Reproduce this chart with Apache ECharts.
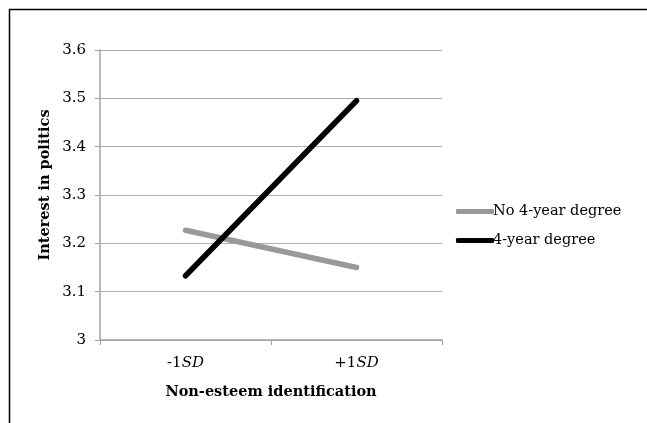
<!DOCTYPE html>
<html><head><meta charset="utf-8">
<script src="https://cdn.jsdelivr.net/npm/echarts@6/dist/echarts.min.js"></script>
<style>html,body{margin:0;padding:0;background:#fff;}#c{width:647px;height:423px;}</style>
</head><body><div id="c"></div>
<script>
const categories = ['-1SD', '+1SD'];
const noDegree = [3.227, 3.150];
const degree = [3.133, 3.495];
const yTicks = { min: 3, max: 3.6, step: 0.1 };
const seriesNames = ['No 4-year degree', '4-year degree'];
const xTitle = 'Non-esteem identification';
const yTitle = 'Interest in politics';

const FONT = 'DejaVu Serif';
const chart = echarts.init(document.getElementById('c'));
chart.setOption({
  animation: false,
  backgroundColor: '#fff',
  textStyle: { fontFamily: FONT },
  grid: { left: 100, right: 205, top: 50, bottom: 83 },
  legend: {
    orient: 'vertical', left: 451, top: 199, itemWidth: 38, itemHeight: 5, itemGap: 14,
    icon: 'roundRect',
    textStyle: { fontFamily: FONT, fontSize: 14.5, color: '#000', padding: [0, 0, 0, -6] },
    data: seriesNames
  },
  xAxis: {
    type: 'category', data: categories, boundaryGap: true,
    axisLine: { lineStyle: { color: '#a0a0a0', width: 1.5 } },
    axisTick: { show: true, length: 5, lineStyle: { color: '#a0a0a0' } },
    axisLabel: {
      margin: 16, fontSize: 15, color: '#000', fontFamily: FONT,
      formatter: v => '{n|' + v.replace('SD', '') + '}{i|SD}',
      rich: { n: { fontSize: 15, fontFamily: FONT, color: '#000' }, i: { fontSize: 15, fontFamily: FONT, fontStyle: 'italic', color: '#000' } }
    },
    name: xTitle, nameLocation: 'middle', nameGap: 45,
    nameTextStyle: { fontSize: 14.5, fontWeight: 'bold', color: '#000', fontFamily: FONT }
  },
  yAxis: {
    type: 'value', min: yTicks.min, max: yTicks.max, interval: yTicks.step,
    axisLine: { show: true, lineStyle: { color: '#a0a0a0', width: 1.5 } },
    axisTick: { show: true, length: 5, lineStyle: { color: '#a0a0a0' } },
    splitLine: { lineStyle: { color: '#b0b0b0', width: 1 } },
    axisLabel: { margin: 14, fontSize: 15, color: '#000', fontFamily: FONT }
  },
  graphic: [
    { type: 'rect', shape: { x: 9.5, y: 9.5, width: 800, height: 600 }, style: { fill: 'none', stroke: '#000', lineWidth: 1.5 }, silent: true },
    { type: 'text', x: 45, y: 185, rotation: Math.PI / 2,
      style: { text: yTitle, fontFamily: FONT, fontSize: 14.5, fontWeight: 'bold', fill: '#000', align: 'center', verticalAlign: 'middle' } }
  ],
  series: [
    { name: seriesNames[0], type: 'line', data: noDegree, showSymbol: false, color: '#999999',
      lineStyle: { width: 5.5, color: '#999999', cap: 'round' } },
    { name: seriesNames[1], type: 'line', data: degree, showSymbol: false, color: '#000',
      lineStyle: { width: 5.5, color: '#000', cap: 'round' } }
  ]
});
</script></body></html>
